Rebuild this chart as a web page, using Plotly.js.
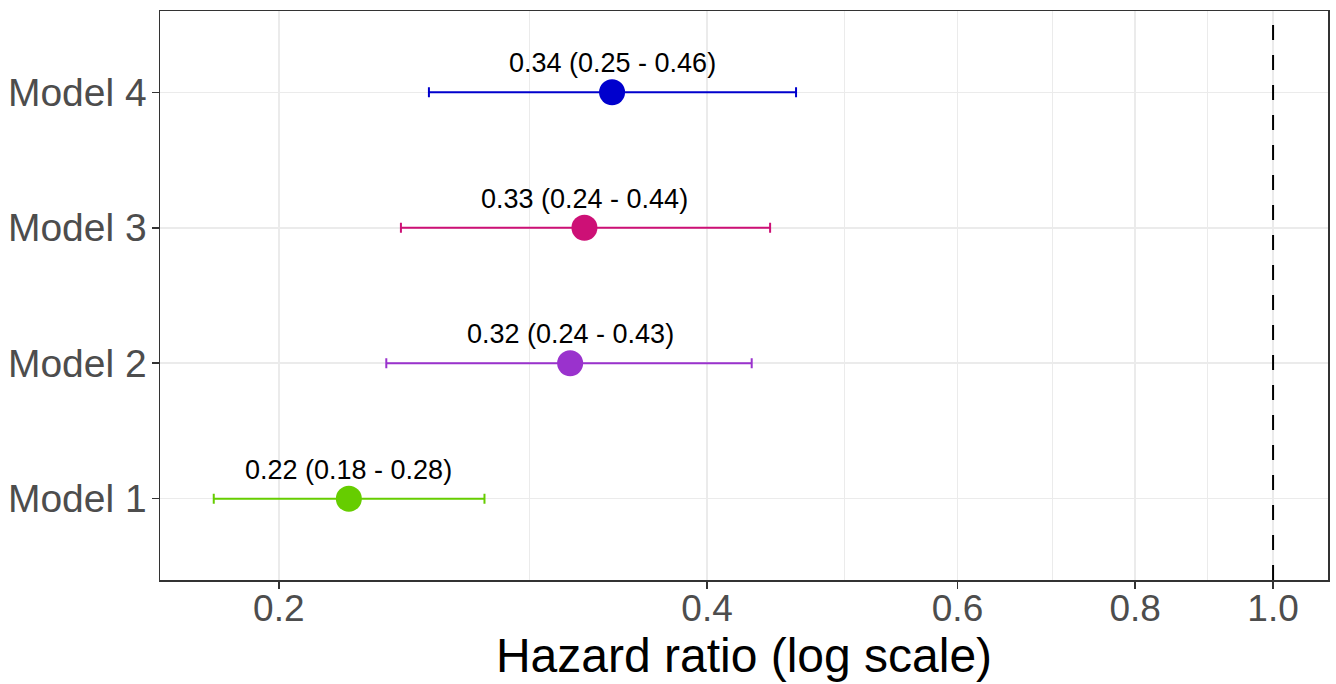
<!DOCTYPE html>
<html>
<head>
<meta charset="utf-8">
<script src="https://cdn.plot.ly/plotly-3.0.1.min.js"></script>
<style>html,body{margin:0;padding:0;background:#fff;}#chart{width:1336px;height:684px;}</style>
</head>
<body>
<div id="chart"></div>
<script>
const models = ["Model 1", "Model 2", "Model 3", "Model 4"];
const hr = [0.224, 0.3205, 0.328, 0.343];
const lower = [0.180, 0.238, 0.2437, 0.255];
const upper = [0.279, 0.430, 0.443, 0.462];
const labels = ["0.22 (0.18 - 0.28)", "0.32 (0.24 - 0.43)", "0.33 (0.24 - 0.44)", "0.34 (0.25 - 0.46)"];
const colors = ["#66CD00", "#9A32CD", "#CD1076", "#0000CD"];
const xTicks = [0.2, 0.4, 0.6, 0.8, 1.0];
const xTickText = ["0.2", "0.4", "0.6", "0.8", "1.0"];
const xMinor = [0.3, 0.5, 0.7, 0.9];
const refLine = 1.0;

const traces = models.map((m, i) => ({
  type: "scatter",
  mode: "markers",
  x: [hr[i]],
  y: [m],
  marker: {color: colors[i], size: 26},
  error_x: {
    type: "data", symmetric: false,
    array: [upper[i] - hr[i]],
    arrayminus: [hr[i] - lower[i]],
    color: colors[i], thickness: 2, width: 5
  },
  showlegend: false,
  hoverinfo: "x+y"
}));

const annotations = models.map((m, i) => ({
  x: Math.log10(hr[i]), y: m, xref: "x", yref: "y",
  text: labels[i], showarrow: false, yshift: 29,
  font: {family: "Liberation Sans, Arial, sans-serif", size: 27, color: "#000000"}
}));

const layout = {
  width: 1336, height: 684,
  margin: {l: 160, r: 8, t: 11, b: 104},
  paper_bgcolor: "#ffffff", plot_bgcolor: "#ffffff",
  font: {family: "Liberation Sans, Arial, sans-serif"},
  xaxis: {
    type: "log",
    range: [Math.log10(0.165), Math.log10(1.093)],
    tickmode: "array", tickvals: xTicks, ticktext: xTickText,
    tickfont: {size: 37, color: "#4D4D4D"},
    ticks: "outside", ticklen: 7, tickwidth: 1.5, tickcolor: "#333333",
    ticklabelstandoff: -12,
    showgrid: true, gridcolor: "#EBEBEB", gridwidth: 1.5,
    minor: {tickmode: "array", tickvals: xMinor, showgrid: true, gridcolor: "#EBEBEB", gridwidth: 1, ticks: ""},
    zeroline: false,
    showline: true, linecolor: "#333333", linewidth: 1.5, mirror: true,
    title: {text: "Hazard ratio (log scale)", font: {size: 48, color: "#000000"}, standoff: 8}
  },
  yaxis: {
    type: "category",
    categoryorder: "array", categoryarray: models,
    range: [-0.6, 3.6],
    tickfont: {size: 39, color: "#4D4D4D"},
    ticks: "outside", ticklen: 7, tickwidth: 1.5, tickcolor: "#333333",
    ticklabelstandoff: -3,
    showgrid: true, gridcolor: "#EBEBEB", gridwidth: 1.5,
    zeroline: false,
    showline: true, linecolor: "#333333", linewidth: 1.5, mirror: true
  },
  shapes: [{
    type: "line", xref: "x", yref: "paper",
    x0: refLine, x1: refLine, y0: 0, y1: 1,
    line: {color: "#000000", width: 2, dash: "longdash"}
  }],
  annotations: annotations
};

Plotly.newPlot("chart", traces, layout, {displayModeBar: false, staticPlot: true});
</script>
</body>
</html>
